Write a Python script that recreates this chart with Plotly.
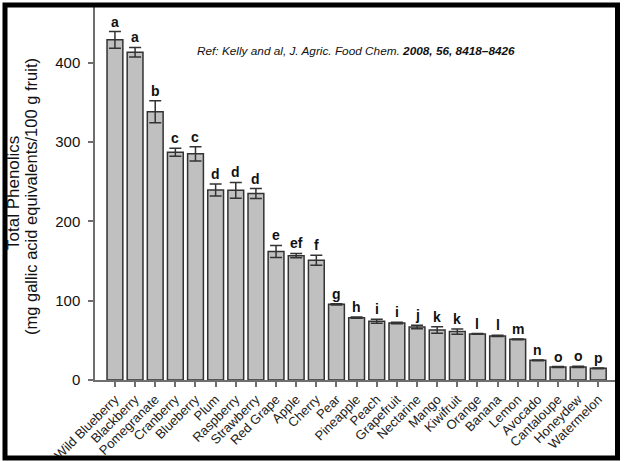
import plotly.graph_objects as go

# Total phenolic content of common fruits (mean ± SD)
fruits = ["Wild Blueberry", "Blackberry", "Pomegranate", "Cranberry", "Blueberry",
          "Plum", "Raspberry", "Strawberry", "Red Grape", "Apple", "Cherry", "Pear",
          "Pineapple", "Peach", "Grapefruit", "Nectarine", "Mango", "Kiwifruit",
          "Orange", "Banana", "Lemon", "Avocado", "Cantaloupe", "Honeydew", "Watermelon"]
phenolics = [428.6, 413.0, 338.0, 287.0, 285.0, 239.5, 239.0, 235.0, 162.0, 156.7,
             151.0, 95.4, 78.5, 74.0, 71.8, 66.8, 63.0, 61.0, 58.0, 55.5, 51.3,
             24.8, 16.4, 16.4, 14.7]
sd = [10.5, 6.0, 14.0, 5.0, 9.0, 7.5, 10.0, 6.3, 7.5, 2.8, 6.3, 0.8, 0.8, 2.5, 1.0,
      2.3, 4.2, 3.4, 0.5, 0.8, 0.5, 0.5, 0.5, 0.8, 0.5]
groups = ["a", "a", "b", "c", "c", "d", "d", "d", "e", "ef", "f", "g", "h", "i", "i",
          "j", "k", "k", "l", "l", "m", "n", "o", "o", "p"]
y_ticks = [0, 100, 200, 300, 400]

FONT = "Liberation Sans, Arial, sans-serif"
AXIS = "#6e6e6e"
DARK = "#333333"

# plot-area geometry in pixels (used to place the frame and side labels)
W, H = 627, 461
L, R, T, B = 95, 11, 7, 81
PW, PH = W - L - R, H - T - B


def px_x(p):
    return (p - L) / PW


def px_y(p):
    return (H - B - p) / PH


xs = list(range(len(fruits)))

fig = go.Figure()
fig.add_trace(go.Bar(
    x=xs, y=phenolics, width=0.785,
    marker=dict(color="#c0c0c0", line=dict(color=DARK, width=1.5)),
    error_y=dict(type="data", array=sd, visible=True, color=DARK,
                 thickness=1.5, width=6),
    showlegend=False,
))

# significance letters above each error bar
for x, v, e, g in zip(xs, phenolics, sd, groups):
    fig.add_annotation(x=x, y=v + e, text=f"<b>{g}</b>", showarrow=False,
                       yanchor="bottom", yshift=0,
                       font=dict(family=FONT, size=14, color="#111111"))

# two-line y-axis title
fig.add_annotation(xref="paper", yref="paper", x=0, y=px_y(193), xshift=13 - L,
                   xanchor="center", yanchor="middle", textangle=-90,
                   text="Total Phenolics", showarrow=False,
                   font=dict(family=FONT, size=17, color="#111111"))
fig.add_annotation(xref="paper", yref="paper", x=0, y=px_y(197), xshift=31 - L,
                   xanchor="center", yanchor="middle", textangle=-90,
                   text="(mg gallic acid equivalents/100 g fruit)", showarrow=False,
                   font=dict(family=FONT, size=16.5, color="#111111"))

# literature reference
fig.add_annotation(xref="paper", yref="paper", x=px_x(195), y=px_y(51),
                   xanchor="left", yanchor="middle", showarrow=False,
                   text="<i>Ref: Kelly and al, J. Agric. Food Chem. <b>2008, 56, 8418–8426</b></i>",
                   font=dict(family=FONT, size=11.8, color="#111111"))

# black frame around the figure
fig.add_shape(type="rect", xref="paper", yref="paper",
              x0=px_x(5), x1=px_x(617.5), y0=px_y(458), y1=px_y(5),
              line=dict(color="black", width=5), layer="above")

fig.update_layout(
    width=W, height=H,
    margin=dict(l=L, r=R, t=T, b=B, autoexpand=False),
    paper_bgcolor="white", plot_bgcolor="white",
    font=dict(family=FONT, color="#111111"),
    xaxis=dict(range=[-0.99, 24.88], tickmode="array", tickvals=xs, ticktext=fruits,
               tickangle=-45, ticks="outside", ticklen=5, tickcolor=AXIS, tickwidth=1.5,
               showline=True, linecolor=AXIS, linewidth=1.5, showgrid=False,
               zeroline=False, automargin=False,
               tickfont=dict(family=FONT, size=13, color="#222222")),
    yaxis=dict(range=[0, 470], tickmode="array", tickvals=y_ticks,
               ticks="outside", ticklen=5, tickcolor=AXIS, tickwidth=1.5,
               ticklabelstandoff=5, automargin=False,
               showline=True, linecolor=AXIS, linewidth=1.5, showgrid=False,
               zeroline=False, tickfont=dict(family=FONT, size=15, color="#111111")),
    bargap=0.2,
)

fig.write_html("out.html")
